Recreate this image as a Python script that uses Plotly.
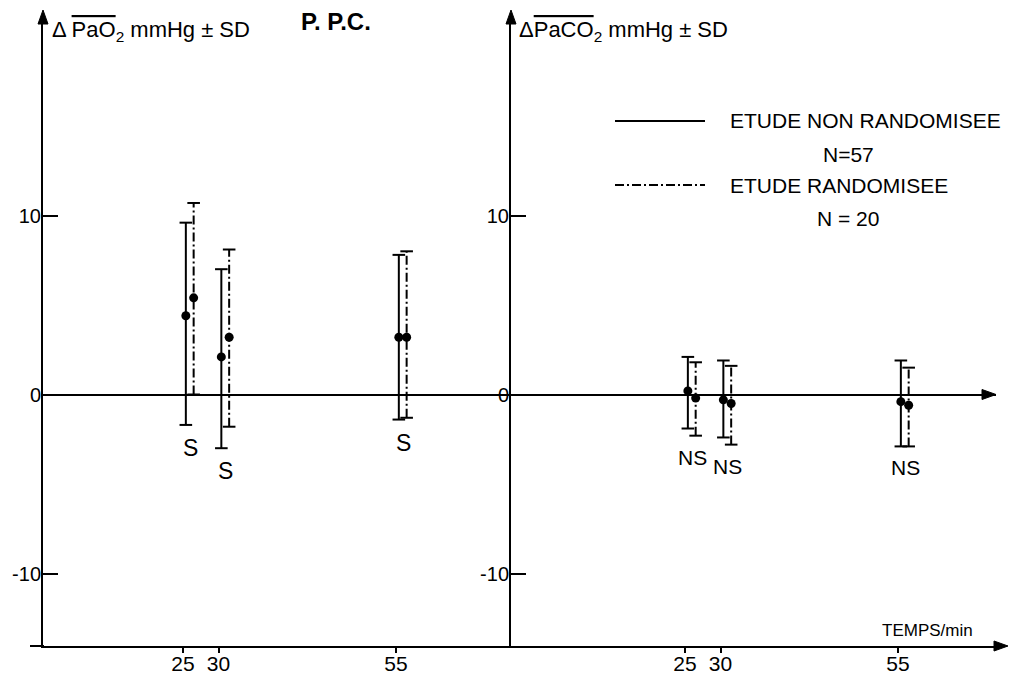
import plotly.graph_objects as go

# ---------------- data ----------------
times = [25, 30, 55]
y_ticks = [-10, 0, 10]

# Left panel : delta PaO2 (mmHg), mean and +/- SD ends
pao2_nonrand_mean = [4.4, 2.1, 3.2]
pao2_nonrand_hi = [9.6, 7.0, 7.8]
pao2_nonrand_lo = [-1.7, -3.0, -1.4]
pao2_rand_mean = [5.4, 3.2, 3.2]
pao2_rand_hi = [10.7, 8.1, 8.0]
pao2_rand_lo = [0.0, -1.8, -1.3]
pao2_signif = ["S", "S", "S"]

# Right panel : delta PaCO2 (mmHg)
paco2_nonrand_mean = [0.2, -0.3, -0.4]
paco2_nonrand_hi = [2.1, 1.9, 1.9]
paco2_nonrand_lo = [-1.9, -2.4, -2.9]
paco2_rand_mean = [-0.2, -0.5, -0.6]
paco2_rand_hi = [1.8, 1.6, 1.5]
paco2_rand_lo = [-2.3, -2.8, -2.9]
paco2_signif = ["NS", "NS", "NS"]

legend_labels = ["ETUDE NON RANDOMISEE", "ETUDE RANDOMISEE"]
legend_n = ["N=57", "N = 20"]

# ---------------- layout helpers ----------------
# the page body has an 8 px margin: the figure starts at (8, 8) in the window
OFF = 8
W, H = 1022 - OFF, 675 - OFF
FONT = "Liberation Sans, Arial, sans-serif"


def px(x):
    return (x - OFF) / W


def py(y):
    return 1 - (y - OFF) / H


SOLID_OFF = 0.4
DASH_OFF = 1.5
DASHDOT = "9px,3px,2px,3px"

fig = go.Figure()


def add_series(means, his, los, dash, offset, xa, ya):
    xs = [t + offset for t in times]
    wx, wy = [], []
    for x, lo, hi in zip(xs, los, his):
        wx += [x, x, None]
        wy += [lo, hi, None]
    fig.add_trace(go.Scatter(x=wx, y=wy, mode="lines", xaxis=xa, yaxis=ya,
                             line=dict(color="black", width=2, dash=dash),
                             showlegend=False, hoverinfo="skip"))
    fig.add_trace(go.Scatter(x=xs + xs, y=list(his) + list(los), mode="markers",
                             xaxis=xa, yaxis=ya,
                             marker=dict(symbol="line-ew", size=9,
                                         line=dict(color="black", width=2)),
                             showlegend=False, hoverinfo="skip"))
    fig.add_trace(go.Scatter(x=xs, y=means, mode="markers", xaxis=xa, yaxis=ya,
                             marker=dict(symbol="circle", size=9, color="black"),
                             showlegend=False))


add_series(pao2_nonrand_mean, pao2_nonrand_hi, pao2_nonrand_lo, "solid", SOLID_OFF, "x", "y")
add_series(pao2_rand_mean, pao2_rand_hi, pao2_rand_lo, DASHDOT, DASH_OFF, "x", "y")
add_series(paco2_nonrand_mean, paco2_nonrand_hi, paco2_nonrand_lo, "solid", SOLID_OFF, "x2", "y2")
add_series(paco2_rand_mean, paco2_rand_hi, paco2_rand_lo, DASHDOT, DASH_OFF, "x2", "y2")

annotations = []


def add_signif(labels, los_a, los_b, xref, yref, size):
    for t, lab, la, lb in zip(times, labels, los_a, los_b):
        annotations.append(dict(x=t + 1.0, y=min(la, lb), xref=xref, yref=yref,
                                text=lab, showarrow=False, xanchor="center",
                                yanchor="top", yshift=-8,
                                font=dict(family=FONT, size=size, color="black")))


add_signif(pao2_signif, pao2_nonrand_lo, pao2_rand_lo, "x", "y", 23)
add_signif(paco2_signif, paco2_nonrand_lo, paco2_rand_lo, "x2", "y2", 21)

# y-axis titles
annotations.append(dict(x=px(50), y=py(31), xref="paper", yref="paper",
                        text="Δ <span style='text-decoration:overline'>PaO</span><sub>2</sub> mmHg ± SD",
                        showarrow=False, xanchor="left", yanchor="middle",
                        font=dict(family=FONT, size=22, color="black")))
annotations.append(dict(x=px(517), y=py(31), xref="paper", yref="paper",
                        text="Δ<span style='text-decoration:overline'>PaCO</span><sub>2</sub> mmHg ± SD",
                        showarrow=False, xanchor="left", yanchor="middle",
                        font=dict(family=FONT, size=22, color="black")))
# title
annotations.append(dict(x=px(336), y=py(22), xref="paper", yref="paper",
                        text="<b>P. P.C.</b>", showarrow=False,
                        xanchor="center", yanchor="middle",
                        font=dict(family=FONT, size=24, color="black")))
# x axis title
annotations.append(dict(x=px(975), y=py(630), xref="paper", yref="paper",
                        text="TEMPS/min", showarrow=False,
                        xanchor="right", yanchor="middle",
                        font=dict(family=FONT, size=17, color="black")))
# legend texts
annotations.append(dict(x=px(728), y=py(121), xref="paper", yref="paper",
                        text=legend_labels[0], showarrow=False, xanchor="left",
                        yanchor="middle", font=dict(family=FONT, size=21, color="black")))
annotations.append(dict(x=px(848), y=py(154), xref="paper", yref="paper",
                        text=legend_n[0], showarrow=False, xanchor="center",
                        yanchor="middle", font=dict(family=FONT, size=21, color="black")))
annotations.append(dict(x=px(728), y=py(185), xref="paper", yref="paper",
                        text=legend_labels[1], showarrow=False, xanchor="left",
                        yanchor="middle", font=dict(family=FONT, size=21, color="black")))
annotations.append(dict(x=px(848), y=py(218), xref="paper", yref="paper",
                        text=legend_n[1], showarrow=False, xanchor="center",
                        yanchor="middle", font=dict(family=FONT, size=21, color="black")))


def arrow_up(xc, ytip, w=5, h=14):
    return dict(type="path", xref="paper", yref="paper",
                path=f"M {px(xc - w)} {py(ytip + h)} L {px(xc)} {py(ytip)} L {px(xc + w)} {py(ytip + h)} Z",
                fillcolor="black", line=dict(color="black", width=1))


def arrow_right(xtip, yc, w=5, h=14):
    return dict(type="path", xref="paper", yref="paper",
                path=f"M {px(xtip - h)} {py(yc - w)} L {px(xtip)} {py(yc)} L {px(xtip - h)} {py(yc + w)} Z",
                fillcolor="black", line=dict(color="black", width=1))


shapes = [
    # legend samples
    dict(type="line", xref="paper", yref="paper", x0=px(615), x1=px(705),
         y0=py(121), y1=py(121), line=dict(color="black", width=2)),
    dict(type="line", xref="paper", yref="paper", x0=px(615), x1=px(705),
         y0=py(185), y1=py(185), line=dict(color="black", width=2, dash=DASHDOT)),
    # small extension of the time axis left of the first y axis
    dict(type="line", xref="paper", yref="paper", x0=px(30), x1=px(44),
         y0=py(646), y1=py(646), line=dict(color="black", width=2)),
    dict(type="line", xref="paper", yref="paper", x0=px(996), x1=px(1004),
         y0=py(646), y1=py(646), line=dict(color="black", width=2)),
    arrow_up(43, 10),
    arrow_up(511, 10),
    arrow_right(1008, 646),
    arrow_right(996, 394.5),
]

x_tick_font = dict(family=FONT, size=21, color="black")
y_tick_font = dict(family=FONT, size=20, color="black")

# y scale: 0 sits at 394.5 px and 10 units span 179 px
Y_TOP_PX, Y_BOT_PX, ZERO_PX, PX_PER_UNIT = 16, 646, 394.5, 17.9
Y0 = -(Y_BOT_PX - ZERO_PX) / PX_PER_UNIT
Y1 = (ZERO_PX - Y_TOP_PX) / PX_PER_UNIT

xcommon = dict(showline=True, linecolor="black", linewidth=2, ticks="outside",
               ticklen=5, tickwidth=2, tickcolor="black", tickvals=times,
               ticklabelstandoff=-7,
               showgrid=False, zeroline=False, tickfont=x_tick_font, automargin=False,
               fixedrange=True)
ycommon = dict(range=[Y0, Y1], domain=[py(Y_BOT_PX), py(Y_TOP_PX)], showline=True,
               linecolor="black", linewidth=2, ticks="inside", ticklen=15,
               tickwidth=2, tickcolor="black", tickvals=y_ticks,
               ticktext=[str(v) for v in y_ticks], showgrid=False,
               ticklabelstandoff=-4,
               zeroline=True, zerolinecolor="black", zerolinewidth=2,
               tickfont=y_tick_font, automargin=False, fixedrange=True)

fig.update_layout(
    width=W, height=H,
    margin=dict(l=0, r=0, t=0, b=0),
    paper_bgcolor="white", plot_bgcolor="white",
    showlegend=False,
    xaxis=dict(domain=[px(43), px(511)], range=[5.28, 71.2], anchor="y", **xcommon),
    xaxis2=dict(domain=[px(511), px(996)], range=[0.49, 68.8], anchor="y2", **xcommon),
    yaxis=dict(anchor="x", **ycommon),
    yaxis2=dict(anchor="x2", **ycommon),
    annotations=annotations,
    shapes=shapes,
)

fig.write_html("out.html")
